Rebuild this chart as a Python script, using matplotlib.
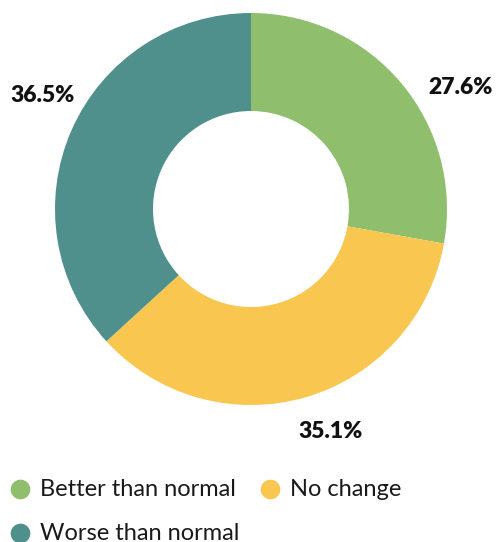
import matplotlib
matplotlib.use("Agg")
import matplotlib.pyplot as plt

categories = ["Better than normal", "No change", "Worse than normal"]
values = [27.6, 35.1, 36.5]
colors = ["#8fbe6c", "#f9c650", "#4f8f8c"]

W, H = 497, 542
fig = plt.figure(figsize=(W / 100, H / 100), dpi=100)
ax = fig.add_axes([0, 0, 1, 1])

cx, cy, R = 251, H - 209, 196
ax.pie(values, colors=colors, startangle=90, counterclock=False,
       radius=R, center=(cx, cy), frame=True,
       wedgeprops=dict(width=R * 0.5, linewidth=0))
ax.set_xlim(0, W)
ax.set_ylim(0, H)
ax.set_aspect("equal")
ax.axis("off")

# percentage labels beside each ring segment
label_pos = [(461, H - 88), (331, H - 432), (43, H - 96)]
for (x, y), v in zip(label_pos, values):
    ax.text(x, y, f"{v}%", ha="center", va="center", fontsize=16.5,
            fontweight="heavy", family="Lato", color="#111111")

# legend rows with round markers
legend_pos = [(20, H - 489), (270, H - 489), (20, H - 533)]
for (x, y), name, c in zip(legend_pos, categories, colors):
    ax.scatter([x], [y], s=200, color=c, linewidths=0, clip_on=False)
    ax.text(x + 20, y, name, ha="left", va="center", fontsize=17,
            family="Lato", color="#1a1a1a")

fig.savefig("out.png", dpi=100)
